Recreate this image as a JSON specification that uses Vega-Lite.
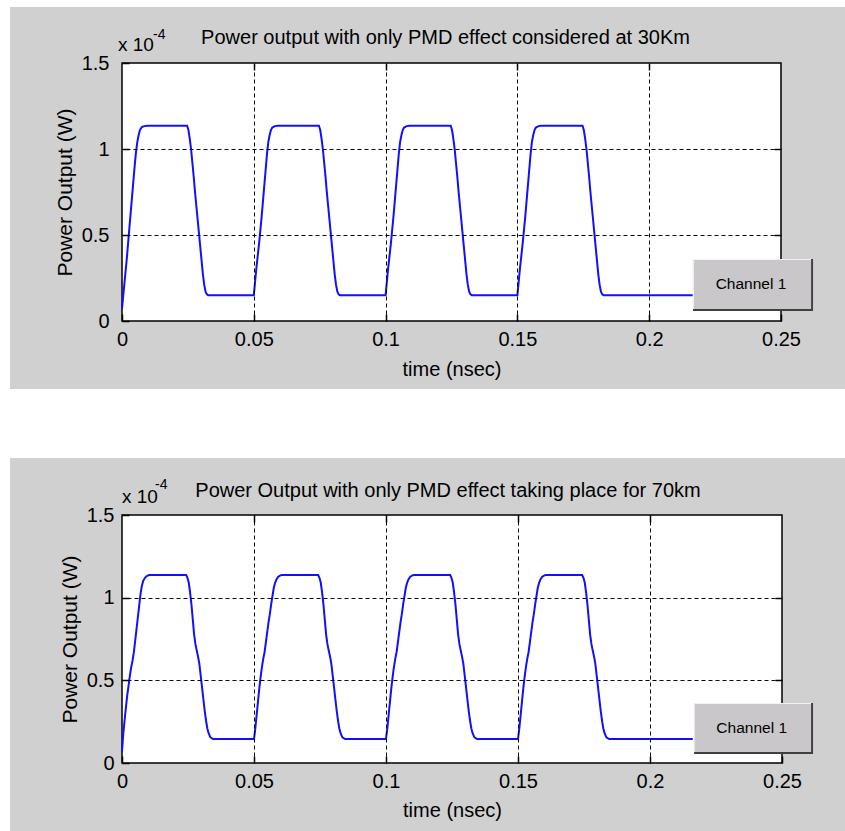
{
  "$schema": "https://vega.github.io/schema/vega-lite/v6.json",
  "background": "white",
  "padding": {"left": 9, "top": 6, "right": 0, "bottom": 0},
  "spacing": 68,
  "config": {
    "font": "Liberation Sans, Arial, sans-serif",
    "view": {"stroke": null},
    "axis": {
      "labelFontSize": 20, "labelColor": "black", "titleFontSize": 20, "titleColor": "black",
      "titleFontWeight": "normal", "tickColor": "black", "tickWidth": 1.5, "tickSize": -7,
      "gridColor": "black", "gridOpacity": 1, "gridDash": [4, 3], "gridWidth": 1,
      "domain": false, "labelFlush": false, "labelOverlap": false
    }
  },
  "datasets": {
    "top": [
      {"t":0,"p":0.07},{"t":0.0003,"p":0.12},{"t":0.0008,"p":0.2},{"t":0.0013,"p":0.28},{"t":0.0018,"p":0.36},{"t":0.0023,"p":0.45},{"t":0.0028,"p":0.54},{"t":0.0033,"p":0.63},{"t":0.0038,"p":0.72},{"t":0.0043,"p":0.81},{"t":0.0048,"p":0.9},{"t":0.0053,"p":0.98},{"t":0.0058,"p":1.04},{"t":0.0063,"p":1.08},{"t":0.0068,"p":1.11},{"t":0.0075,"p":1.127},{"t":0.0085,"p":1.133},{"t":0.0097,"p":1.135},
      {"t":0.0247,"p":1.135},{"t":0.0252,"p":1.11},{"t":0.0257,"p":1.06},{"t":0.0262,"p":1.0},{"t":0.0267,"p":0.92},{"t":0.0272,"p":0.84},{"t":0.0277,"p":0.75},{"t":0.0282,"p":0.67},{"t":0.0287,"p":0.59},{"t":0.0292,"p":0.51},{"t":0.0297,"p":0.43},{"t":0.0302,"p":0.35},{"t":0.0307,"p":0.27},{"t":0.0312,"p":0.21},{"t":0.0317,"p":0.17},{"t":0.0322,"p":0.155},{"t":0.0327,"p":0.15},
      {"t":0.05,"p":0.15},{"t":0.0505,"p":0.23},{"t":0.051,"p":0.31},{"t":0.0515,"p":0.38},{"t":0.052,"p":0.45},{"t":0.0525,"p":0.53},{"t":0.053,"p":0.61},{"t":0.0535,"p":0.7},{"t":0.054,"p":0.79},{"t":0.0545,"p":0.88},{"t":0.055,"p":0.97},{"t":0.0555,"p":1.04},{"t":0.056,"p":1.08},{"t":0.0565,"p":1.11},{"t":0.057,"p":1.125},{"t":0.058,"p":1.133},{"t":0.059,"p":1.135},
      {"t":0.0747,"p":1.135},{"t":0.0752,"p":1.11},{"t":0.0757,"p":1.06},{"t":0.0762,"p":1.0},{"t":0.0767,"p":0.92},{"t":0.0772,"p":0.84},{"t":0.0777,"p":0.75},{"t":0.0782,"p":0.67},{"t":0.0787,"p":0.59},{"t":0.0792,"p":0.51},{"t":0.0797,"p":0.43},{"t":0.0802,"p":0.35},{"t":0.0807,"p":0.27},{"t":0.0812,"p":0.21},{"t":0.0817,"p":0.17},{"t":0.0822,"p":0.155},{"t":0.0827,"p":0.15},
      {"t":0.1,"p":0.15},{"t":0.1005,"p":0.23},{"t":0.101,"p":0.31},{"t":0.1015,"p":0.38},{"t":0.102,"p":0.45},{"t":0.1025,"p":0.53},{"t":0.103,"p":0.61},{"t":0.1035,"p":0.7},{"t":0.104,"p":0.79},{"t":0.1045,"p":0.88},{"t":0.105,"p":0.97},{"t":0.1055,"p":1.04},{"t":0.106,"p":1.08},{"t":0.1065,"p":1.11},{"t":0.107,"p":1.125},{"t":0.108,"p":1.133},{"t":0.109,"p":1.135},
      {"t":0.1247,"p":1.135},{"t":0.1252,"p":1.11},{"t":0.1257,"p":1.06},{"t":0.1262,"p":1.0},{"t":0.1267,"p":0.92},{"t":0.1272,"p":0.84},{"t":0.1277,"p":0.75},{"t":0.1282,"p":0.67},{"t":0.1287,"p":0.59},{"t":0.1292,"p":0.51},{"t":0.1297,"p":0.43},{"t":0.1302,"p":0.35},{"t":0.1307,"p":0.27},{"t":0.1312,"p":0.21},{"t":0.1317,"p":0.17},{"t":0.1322,"p":0.155},{"t":0.1327,"p":0.15},
      {"t":0.15,"p":0.15},{"t":0.1505,"p":0.23},{"t":0.151,"p":0.31},{"t":0.1515,"p":0.38},{"t":0.152,"p":0.45},{"t":0.1525,"p":0.53},{"t":0.153,"p":0.61},{"t":0.1535,"p":0.7},{"t":0.154,"p":0.79},{"t":0.1545,"p":0.88},{"t":0.155,"p":0.97},{"t":0.1555,"p":1.04},{"t":0.156,"p":1.08},{"t":0.1565,"p":1.11},{"t":0.157,"p":1.125},{"t":0.158,"p":1.133},{"t":0.159,"p":1.135},
      {"t":0.1747,"p":1.135},{"t":0.1752,"p":1.11},{"t":0.1757,"p":1.06},{"t":0.1762,"p":1.0},{"t":0.1767,"p":0.92},{"t":0.1772,"p":0.84},{"t":0.1777,"p":0.75},{"t":0.1782,"p":0.67},{"t":0.1787,"p":0.59},{"t":0.1792,"p":0.51},{"t":0.1797,"p":0.43},{"t":0.1802,"p":0.35},{"t":0.1807,"p":0.27},{"t":0.1812,"p":0.21},{"t":0.1817,"p":0.17},{"t":0.1822,"p":0.155},{"t":0.1827,"p":0.15},
      {"t":0.2165,"p":0.15}
    ],
    "bot": [
      {"t":0,"p":0.068},{"t":0.0005,"p":0.18},{"t":0.001,"p":0.26},{"t":0.0015,"p":0.34},{"t":0.002,"p":0.41},{"t":0.0025,"p":0.47},{"t":0.003,"p":0.53},{"t":0.0035,"p":0.58},{"t":0.004,"p":0.62},{"t":0.0045,"p":0.67},{"t":0.005,"p":0.74},{"t":0.0055,"p":0.81},{"t":0.006,"p":0.88},{"t":0.0065,"p":0.95},{"t":0.007,"p":1.02},{"t":0.0075,"p":1.07},{"t":0.008,"p":1.1},{"t":0.0087,"p":1.12},{"t":0.0095,"p":1.132},{"t":0.0103,"p":1.137},
      {"t":0.0243,"p":1.137},{"t":0.0248,"p":1.12},{"t":0.0253,"p":1.09},{"t":0.0258,"p":1.03},{"t":0.0263,"p":0.96},{"t":0.0268,"p":0.87},{"t":0.0273,"p":0.78},{"t":0.0278,"p":0.72},{"t":0.0283,"p":0.68},{"t":0.0288,"p":0.645},{"t":0.0293,"p":0.6},{"t":0.0298,"p":0.53},{"t":0.0303,"p":0.46},{"t":0.0308,"p":0.39},{"t":0.0313,"p":0.32},{"t":0.0318,"p":0.26},{"t":0.0323,"p":0.21},{"t":0.0328,"p":0.18},{"t":0.0335,"p":0.155},{"t":0.0345,"p":0.145},
      {"t":0.05,"p":0.145},{"t":0.0505,"p":0.21},{"t":0.051,"p":0.29},{"t":0.0515,"p":0.37},{"t":0.052,"p":0.45},{"t":0.0525,"p":0.52},{"t":0.053,"p":0.58},{"t":0.0535,"p":0.63},{"t":0.054,"p":0.67},{"t":0.0545,"p":0.73},{"t":0.055,"p":0.79},{"t":0.0555,"p":0.85},{"t":0.056,"p":0.9},{"t":0.0565,"p":0.96},{"t":0.057,"p":1.01},{"t":0.0575,"p":1.06},{"t":0.058,"p":1.09},{"t":0.0585,"p":1.11},{"t":0.0592,"p":1.127},{"t":0.06,"p":1.135},{"t":0.0606,"p":1.137},
      {"t":0.0743,"p":1.137},{"t":0.0748,"p":1.12},{"t":0.0753,"p":1.09},{"t":0.0758,"p":1.03},{"t":0.0763,"p":0.96},{"t":0.0768,"p":0.87},{"t":0.0773,"p":0.78},{"t":0.0778,"p":0.72},{"t":0.0783,"p":0.68},{"t":0.0788,"p":0.645},{"t":0.0793,"p":0.6},{"t":0.0798,"p":0.53},{"t":0.0803,"p":0.46},{"t":0.0808,"p":0.39},{"t":0.0813,"p":0.32},{"t":0.0818,"p":0.26},{"t":0.0823,"p":0.21},{"t":0.0828,"p":0.18},{"t":0.0835,"p":0.155},{"t":0.0845,"p":0.145},
      {"t":0.1,"p":0.145},{"t":0.1005,"p":0.21},{"t":0.101,"p":0.29},{"t":0.1015,"p":0.37},{"t":0.102,"p":0.45},{"t":0.1025,"p":0.52},{"t":0.103,"p":0.58},{"t":0.1035,"p":0.63},{"t":0.104,"p":0.67},{"t":0.1045,"p":0.73},{"t":0.105,"p":0.79},{"t":0.1055,"p":0.85},{"t":0.106,"p":0.9},{"t":0.1065,"p":0.96},{"t":0.107,"p":1.01},{"t":0.1075,"p":1.06},{"t":0.108,"p":1.09},{"t":0.1085,"p":1.11},{"t":0.1092,"p":1.127},{"t":0.11,"p":1.135},{"t":0.1106,"p":1.137},
      {"t":0.1243,"p":1.137},{"t":0.1248,"p":1.12},{"t":0.1253,"p":1.09},{"t":0.1258,"p":1.03},{"t":0.1263,"p":0.96},{"t":0.1268,"p":0.87},{"t":0.1273,"p":0.78},{"t":0.1278,"p":0.72},{"t":0.1283,"p":0.68},{"t":0.1288,"p":0.645},{"t":0.1293,"p":0.6},{"t":0.1298,"p":0.53},{"t":0.1303,"p":0.46},{"t":0.1308,"p":0.39},{"t":0.1313,"p":0.32},{"t":0.1318,"p":0.26},{"t":0.1323,"p":0.21},{"t":0.1328,"p":0.18},{"t":0.1335,"p":0.155},{"t":0.1345,"p":0.145},
      {"t":0.15,"p":0.145},{"t":0.1505,"p":0.21},{"t":0.151,"p":0.29},{"t":0.1515,"p":0.37},{"t":0.152,"p":0.45},{"t":0.1525,"p":0.52},{"t":0.153,"p":0.58},{"t":0.1535,"p":0.63},{"t":0.154,"p":0.67},{"t":0.1545,"p":0.73},{"t":0.155,"p":0.79},{"t":0.1555,"p":0.85},{"t":0.156,"p":0.9},{"t":0.1565,"p":0.96},{"t":0.157,"p":1.01},{"t":0.1575,"p":1.06},{"t":0.158,"p":1.09},{"t":0.1585,"p":1.11},{"t":0.1592,"p":1.127},{"t":0.16,"p":1.135},{"t":0.1606,"p":1.137},
      {"t":0.1743,"p":1.137},{"t":0.1748,"p":1.12},{"t":0.1753,"p":1.09},{"t":0.1758,"p":1.03},{"t":0.1763,"p":0.96},{"t":0.1768,"p":0.87},{"t":0.1773,"p":0.78},{"t":0.1778,"p":0.72},{"t":0.1783,"p":0.68},{"t":0.1788,"p":0.645},{"t":0.1793,"p":0.6},{"t":0.1798,"p":0.53},{"t":0.1803,"p":0.46},{"t":0.1808,"p":0.39},{"t":0.1813,"p":0.32},{"t":0.1818,"p":0.26},{"t":0.1823,"p":0.21},{"t":0.1828,"p":0.18},{"t":0.1835,"p":0.155},{"t":0.1845,"p":0.145},
      {"t":0.2162,"p":0.145}
    ]
  },
  "vconcat": [
    {
      "width": 659, "height": 258,
      "resolve": {"axis": {"x": "independent", "y": "independent"}},
      "layer": [
        {"data": {"values": [{}]}, "mark": {"type": "rect", "fill": "#d0d0d0"},
         "encoding": {
           "x": {"datum": -0.04249, "type": "quantitative", "scale": {"domain": [0, 0.25], "nice": false, "zero": false}, "axis": null},
           "x2": {"datum": 0.27466},
           "y": {"datum": 1.8256, "type": "quantitative", "scale": {"domain": [0, 1.5], "nice": false, "zero": false}, "axis": null},
           "y2": {"datum": -0.3953}}},
        {"data": {"values": [{}]}, "mark": {"type": "rect", "fill": "white", "stroke": "black", "strokeWidth": 1.5},
         "encoding": {
           "x": {"datum": 0, "type": "quantitative", "axis": null}, "x2": {"datum": 0.25},
           "y": {"datum": 0, "type": "quantitative", "axis": null}, "y2": {"datum": 1.5}}},
        {"data": {"name": "top"}, "mark": {"type": "line", "color": "#1010ff", "strokeWidth": 2},
         "encoding": {
           "x": {"field": "t", "type": "quantitative", "scale": {"domain": [0, 0.25], "nice": false, "zero": false},
                 "axis": {"orient": "bottom", "zindex": 1, "values": [0, 0.05, 0.1, 0.15, 0.2, 0.25], "format": "~g", "title": "time (nsec)", "grid": false, "labelPadding": 15, "titlePadding": 10}},
           "y": {"field": "p", "type": "quantitative", "scale": {"domain": [0, 1.5], "nice": false, "zero": false},
                 "axis": {"orient": "left", "zindex": 1, "values": [0, 0.5, 1, 1.5], "format": "~g", "title": "Power Output (W)", "titleFontSize": 21, "grid": false, "labelPadding": 20, "titlePadding": 6}}}},
        {"data": {"name": "top"}, "mark": {"type": "line", "opacity": 0},
         "encoding": {
           "x": {"field": "t", "type": "quantitative", "axis": {"orient": "top", "zindex": 1, "values": [0.05, 0.1, 0.15, 0.2], "labels": false, "grid": true, "title": null}},
           "y": {"field": "p", "type": "quantitative", "axis": {"orient": "right", "zindex": 1, "values": [0.5, 1], "labels": false, "grid": true, "title": null}}}},
        {"data": {"values": [{}]}, "mark": {"type": "text", "fontSize": 20, "align": "center", "baseline": "alphabetic", "dy": -19, "dx": -6, "color": "black"},
         "encoding": {"x": {"datum": 0.125, "type": "quantitative", "axis": null}, "y": {"datum": 1.5, "type": "quantitative", "axis": null}, "text": {"value": "Power output with only PMD effect considered at 30Km"}}},
        {"data": {"values": [{}]}, "mark": {"type": "text", "fontSize": 19, "align": "left", "baseline": "alphabetic", "dy": -12, "dx": -4, "color": "black"},
         "encoding": {"x": {"datum": 0, "type": "quantitative", "axis": null}, "y": {"datum": 1.5, "type": "quantitative", "axis": null}, "text": {"value": "x 10"}}},
        {"data": {"values": [{}]}, "mark": {"type": "text", "fontSize": 14, "align": "left", "baseline": "alphabetic", "dy": -24, "dx": 31, "color": "black"},
         "encoding": {"x": {"datum": 0, "type": "quantitative", "axis": null}, "y": {"datum": 1.5, "type": "quantitative", "axis": null}, "text": {"value": "-4"}}},
        {"data": {"values": [{}]}, "mark": {"type": "rect", "fill": "#404040", "x2Offset": 2, "y2Offset": 2},
         "encoding": {"x": {"datum": 0.2166, "type": "quantitative", "axis": null}, "x2": {"datum": 0.2614}, "y": {"datum": 0.36, "type": "quantitative", "axis": null}, "y2": {"datum": 0.07}}},
        {"data": {"values": [{}]}, "mark": {"type": "rect", "fill": "#f2f2f2"},
         "encoding": {"x": {"datum": 0.2166, "type": "quantitative", "axis": null}, "x2": {"datum": 0.2614}, "y": {"datum": 0.36, "type": "quantitative", "axis": null}, "y2": {"datum": 0.07}}},
        {"data": {"values": [{}]}, "mark": {"type": "rect", "fill": "#c9c7c9", "xOffset": 1, "yOffset": 1},
         "encoding": {"x": {"datum": 0.2166, "type": "quantitative", "axis": null}, "x2": {"datum": 0.2614}, "y": {"datum": 0.36, "type": "quantitative", "axis": null}, "y2": {"datum": 0.07}}},
        {"data": {"values": [{}]}, "mark": {"type": "text", "fontSize": 15.5, "align": "center", "baseline": "middle", "color": "black", "dx": -1},
         "encoding": {"x": {"datum": 0.239, "type": "quantitative", "axis": null}, "y": {"datum": 0.215, "type": "quantitative", "axis": null}, "text": {"value": "Channel 1"}}}
      ]
    },
    {
      "width": 660, "height": 248,
      "resolve": {"axis": {"x": "independent", "y": "independent"}},
      "layer": [
        {"data": {"values": [{}]}, "mark": {"type": "rect", "fill": "#d0d0d0"},
         "encoding": {
           "x": {"datum": -0.0424, "type": "quantitative", "scale": {"domain": [0, 0.25], "nice": false, "zero": false}, "axis": null},
           "x2": {"datum": 0.2742},
           "y": {"datum": 1.8448, "type": "quantitative", "scale": {"domain": [0, 1.5], "nice": false, "zero": false}, "axis": null},
           "y2": {"datum": -0.4113}}},
        {"data": {"values": [{}]}, "mark": {"type": "rect", "fill": "white", "stroke": "black", "strokeWidth": 1.5},
         "encoding": {
           "x": {"datum": 0, "type": "quantitative", "axis": null}, "x2": {"datum": 0.25},
           "y": {"datum": 0, "type": "quantitative", "axis": null}, "y2": {"datum": 1.5}}},
        {"data": {"name": "bot"}, "mark": {"type": "line", "color": "#1010ff", "strokeWidth": 2},
         "encoding": {
           "x": {"field": "t", "type": "quantitative", "scale": {"domain": [0, 0.25], "nice": false, "zero": false},
                 "axis": {"orient": "bottom", "zindex": 1, "values": [0, 0.05, 0.1, 0.15, 0.2, 0.25], "format": "~g", "title": "time (nsec)", "grid": false, "labelPadding": 15, "titlePadding": 9}},
           "y": {"field": "p", "type": "quantitative", "scale": {"domain": [0, 1.5], "nice": false, "zero": false},
                 "axis": {"orient": "left", "zindex": 1, "values": [0, 0.5, 1, 1.5], "format": "~g", "title": "Power Output (W)", "titleFontSize": 21, "grid": false, "labelPadding": 15, "titlePadding": 6}}}},
        {"data": {"name": "bot"}, "mark": {"type": "line", "opacity": 0},
         "encoding": {
           "x": {"field": "t", "type": "quantitative", "axis": {"orient": "top", "zindex": 1, "values": [0.05, 0.1, 0.15, 0.2], "labels": false, "grid": true, "title": null}},
           "y": {"field": "p", "type": "quantitative", "axis": {"orient": "right", "zindex": 1, "values": [0.5, 1], "labels": false, "grid": true, "title": null}}}},
        {"data": {"values": [{}]}, "mark": {"type": "text", "fontSize": 20, "align": "center", "baseline": "alphabetic", "dy": -18, "dx": -4, "color": "black"},
         "encoding": {"x": {"datum": 0.125, "type": "quantitative", "axis": null}, "y": {"datum": 1.5, "type": "quantitative", "axis": null}, "text": {"value": "Power Output with only PMD effect taking place for 70km"}}},
        {"data": {"values": [{}]}, "mark": {"type": "text", "fontSize": 19, "align": "left", "baseline": "alphabetic", "dy": -12, "dx": 0, "color": "black"},
         "encoding": {"x": {"datum": 0, "type": "quantitative", "axis": null}, "y": {"datum": 1.5, "type": "quantitative", "axis": null}, "text": {"value": "x 10"}}},
        {"data": {"values": [{}]}, "mark": {"type": "text", "fontSize": 14, "align": "left", "baseline": "alphabetic", "dy": -26, "dx": 33, "color": "black"},
         "encoding": {"x": {"datum": 0, "type": "quantitative", "axis": null}, "y": {"datum": 1.5, "type": "quantitative", "axis": null}, "text": {"value": "-4"}}},
        {"data": {"values": [{}]}, "mark": {"type": "rect", "fill": "#404040", "x2Offset": 2, "y2Offset": 2},
         "encoding": {"x": {"datum": 0.2167, "type": "quantitative", "axis": null}, "x2": {"datum": 0.2610}, "y": {"datum": 0.3629, "type": "quantitative", "axis": null}, "y2": {"datum": 0.0665}}},
        {"data": {"values": [{}]}, "mark": {"type": "rect", "fill": "#f2f2f2"},
         "encoding": {"x": {"datum": 0.2167, "type": "quantitative", "axis": null}, "x2": {"datum": 0.2610}, "y": {"datum": 0.3629, "type": "quantitative", "axis": null}, "y2": {"datum": 0.0665}}},
        {"data": {"values": [{}]}, "mark": {"type": "rect", "fill": "#c9c7c9", "xOffset": 1, "yOffset": 1},
         "encoding": {"x": {"datum": 0.2167, "type": "quantitative", "axis": null}, "x2": {"datum": 0.2610}, "y": {"datum": 0.3629, "type": "quantitative", "axis": null}, "y2": {"datum": 0.0665}}},
        {"data": {"values": [{}]}, "mark": {"type": "text", "fontSize": 15.5, "align": "center", "baseline": "middle", "color": "black", "dx": -1},
         "encoding": {"x": {"datum": 0.2389, "type": "quantitative", "axis": null}, "y": {"datum": 0.2147, "type": "quantitative", "axis": null}, "text": {"value": "Channel 1"}}}
      ]
    }
  ]
}
